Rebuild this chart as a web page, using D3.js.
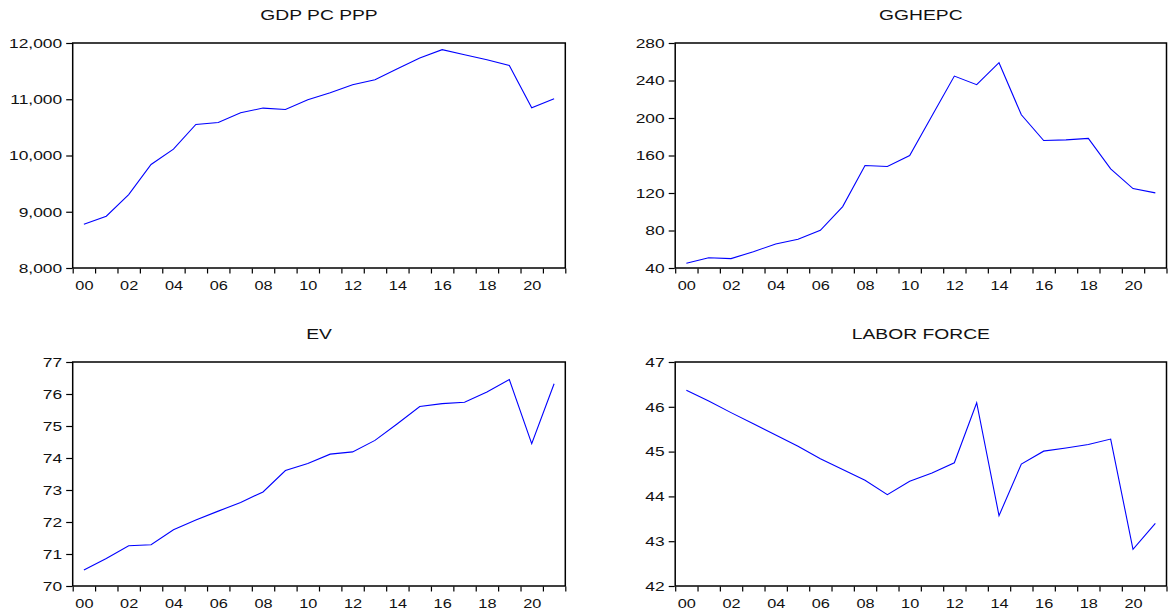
<!DOCTYPE html>
<html><head><meta charset="utf-8">
<script src="https://cdn.jsdelivr.net/npm/d3@7"></script>
<style>
html,body{margin:0;padding:0;background:#fff;}
svg{display:block;}
text{font-family:"Liberation Sans",Arial,sans-serif;fill:#111;}
</style></head>
<body>
<svg id="c" width="1168" height="612"></svg>
<script>
const years = d3.range(2000, 2022);
const xTickYears = d3.range(2000, 2023);
const xLabelYears = d3.range(2000, 2022, 2);

const titles = ["GDP PC PPP", "GGHEPC", "EV", "LABOR FORCE"];

const gdpPcPpp = [8778, 8920, 9306, 9840, 10113, 10552, 10588, 10760, 10843, 10819, 10991,
  11116, 11258, 11347, 11543, 11733, 11881, 11792, 11703, 11602, 10849, 11009];
const gghepc = [45, 51, 50, 57.4, 65.6, 70.6, 80.2, 105.5, 149.3, 148.2, 160,
  202.4, 244.7, 235.5, 259, 203.4, 176, 176.7, 178.2, 145.8, 124.7, 120.1];
const ev = [70.50, 70.86, 71.26, 71.29, 71.76, 72.06, 72.34, 72.61, 72.94, 73.61, 73.83,
  74.12, 74.19, 74.55, 75.07, 75.61, 75.70, 75.74, 76.06, 76.45, 74.45, 76.32];
const laborForce = [46.37, 46.13, 45.87, 45.62, 45.37, 45.12, 44.84, 44.60, 44.36, 44.04, 44.34,
  44.52, 44.75, 46.09, 43.57, 44.72, 45.01, 45.08, 45.16, 45.28, 42.82, 43.40];

const gdpTicks = [8000, 9000, 10000, 11000, 12000];
const gghepcTicks = [40, 80, 120, 160, 200, 240, 280];
const evTicks = [70, 71, 72, 73, 74, 75, 76, 77];
const laborTicks = [42, 43, 44, 45, 46, 47];

const panels = [
  {title: titles[0], data: gdpPcPpp, ticks: gdpTicks, fmt: d3.format(","), box: {l: 72.7, r: 565.3, t: 43, b: 268}},
  {title: titles[1], data: gghepc, ticks: gghepcTicks, fmt: d3.format("d"), box: {l: 675.2, r: 1166.5, t: 43, b: 268}},
  {title: titles[2], data: ev, ticks: evTicks, fmt: d3.format("d"), box: {l: 72.7, r: 565.3, t: 362, b: 586}},
  {title: titles[3], data: laborForce, ticks: laborTicks, fmt: d3.format("d"), box: {l: 675.2, r: 1166.5, t: 362, b: 586}}
];

const svg = d3.select("#c");
const TICK_FS = 12, YTICK_SX = 1.45, XTICK_SX = 1.36;
const TITLE_FS = 14.5, TITLE_SX = 1.33;

panels.forEach(p => {
  const B = p.box;
  const g = svg.append("g");
  const x = d3.scaleLinear().domain([2000, 2022]).range([B.l, B.r]);
  const y = d3.scaleLinear().domain(d3.extent(p.ticks)).range([B.b, B.t]);

  // title
  g.append("text")
    .attr("transform", `translate(${(B.l + B.r) / 2},${B.t - 23}) scale(${TITLE_SX},1)`)
    .attr("text-anchor", "middle")
    .style("font-size", TITLE_FS + "px")
    .text(p.title);

  // y axis
  const ya = g.append("g").attr("transform", `translate(${B.l - 0.5},0)`)
    .call(d3.axisLeft(y).tickValues(p.ticks).tickFormat(p.fmt).tickSize(6).tickSizeOuter(0));
  ya.select(".domain").remove();
  ya.selectAll(".tick line").attr("stroke", "#000").attr("stroke-width", 1.2);
  ya.selectAll(".tick text")
    .attr("x", null).attr("dy", "0.36em")
    .attr("transform", `translate(-10,0) scale(${YTICK_SX},1)`)
    .style("font-size", TICK_FS + "px").attr("fill", "#111");

  // x axis ticks at year boundaries
  const xa = g.append("g").attr("transform", `translate(0,${B.b + 0.5})`)
    .call(d3.axisBottom(x).tickValues(xTickYears).tickFormat("").tickSize(5).tickSizeOuter(0));
  xa.select(".domain").remove();
  xa.selectAll(".tick line").attr("stroke", "#000").attr("stroke-width", 1.2);

  // x labels centered within year intervals
  const xl = g.append("g").attr("transform", `translate(0,${B.b + 0.5})`)
    .call(d3.axisBottom(x).tickValues(xLabelYears.map(v => v + 0.5))
      .tickFormat(v => d3.format("02d")(Math.floor(v) % 100)).tickSize(0).tickPadding(0));
  xl.select(".domain").remove();
  xl.selectAll(".tick line").remove();
  xl.selectAll(".tick text")
    .attr("y", null).attr("dy", null)
    .attr("transform", `translate(0,21) scale(${XTICK_SX},1)`)
    .style("font-size", TICK_FS + "px").attr("fill", "#111");

  // frame
  g.append("rect")
    .attr("x", B.l).attr("y", B.t)
    .attr("width", B.r - B.l).attr("height", B.b - B.t)
    .attr("fill", "none").attr("stroke", "#000").attr("stroke-width", 1.5);

  // line
  const line = d3.line().x((d, i) => x(years[i] + 0.5)).y(d => y(d));
  g.append("path").datum(p.data)
    .attr("d", line)
    .attr("fill", "none").attr("stroke", "#0000ff").attr("stroke-width", 1.1);
});
</script>
</body></html>
